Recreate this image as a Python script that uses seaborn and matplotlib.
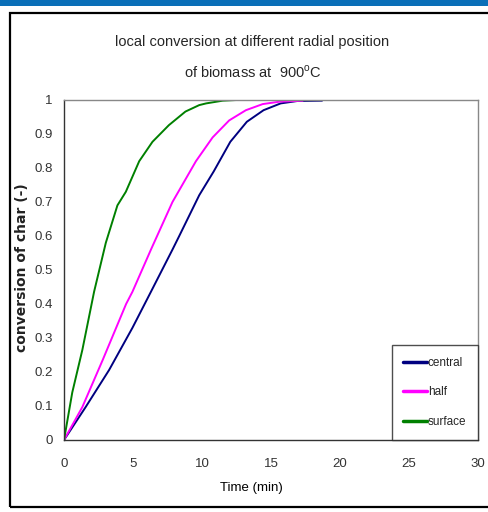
import matplotlib
matplotlib.use("Agg")
import matplotlib.pyplot as plt
import seaborn as sns
import pandas as pd
from matplotlib.patches import Rectangle
from matplotlib.lines import Line2D

# ---- data ----
central_t = [0, 1.57, 3.27, 4.96, 6.3, 7.86, 8.35, 9.8, 10.85, 12.05, 13.25, 14.46, 15.7, 16.9, 18.7]
central_c = [0, 0.097, 0.206, 0.33, 0.436, 0.56, 0.60, 0.72, 0.79, 0.877, 0.936, 0.97, 0.99, 0.997, 0.998]
half_t = [0, 1.33, 2.8, 4.5, 4.96, 6.3, 7.86, 9.56, 10.77, 11.97, 13.18, 14.4, 15.6, 17.3]
half_c = [0, 0.097, 0.235, 0.40, 0.436, 0.56, 0.70, 0.82, 0.89, 0.94, 0.97, 0.988, 0.995, 0.998]
surface_t = [0, 0.6, 1.33, 2.18, 3.03, 3.87, 4.48, 5.45, 6.41, 7.6, 8.8, 9.8, 10.3, 11.5, 12.5, 30.0]
surface_c = [0, 0.14, 0.265, 0.436, 0.58, 0.69, 0.73, 0.82, 0.877, 0.926, 0.966, 0.985, 0.99, 0.998, 1.0, 1.0]
series_names = ["central", "half", "surface"]
colors = ["#000080", "#FF00FF", "#008000"]
x_ticks = [0, 5, 10, 15, 20, 25, 30]
y_ticks = [0, 0.1, 0.2, 0.3, 0.4, 0.5, 0.6, 0.7, 0.8, 0.9, 1.0]
y_tick_labels = ["0", "0.1", "0.2", "0.3", "0.4", "0.5", "0.6", "0.7", "0.8", "0.9", "1"]

rows = []
for name, ts, cs in zip(series_names, [central_t, half_t, surface_t], [central_c, half_c, surface_c]):
    for t, c in zip(ts, cs):
        rows.append({"time": t, "conv": c, "series": name})
df = pd.DataFrame(rows)

sns.set_theme(style="white")
plt.rcParams["font.family"] = ["Liberation Sans", "DejaVu Sans"]

fig = plt.figure(figsize=(4.89, 5.12), dpi=100)
W, H = 489, 512
# top banner
fig.patches.append(Rectangle((0, 1 - 6 / H), 1, 6 / H, transform=fig.transFigure,
                             facecolor="#0a6fb8", edgecolor="none", zorder=0))
# outer frame
fig.patches.append(Rectangle((10 / W, 1 - 507 / H), 1.2, (507 - 13) / H, transform=fig.transFigure,
                             facecolor="none", edgecolor="black", linewidth=1.6, zorder=1))

ax = fig.add_axes([64 / W, 1 - 440 / H, (478 - 64) / W, (440 - 100) / H])
sns.lineplot(data=df, x="time", y="conv", hue="series", palette=colors, hue_order=series_names,
             sort=False, estimator=None, units="series", linewidth=1.4, ax=ax, legend=False)

ax.set_xlim(0, 30)
ax.set_ylim(0, 1)
ax.set_xticks(x_ticks)
ax.set_yticks(y_ticks)
ax.set_yticklabels(y_tick_labels)
ax.tick_params(axis="x", direction="in", length=4, colors="#333333", labelsize=9.5, pad=13, width=0.8)
ax.tick_params(axis="y", direction="out", length=4, colors="#333333", labelsize=9.5, pad=4, width=0.8)
for s in ["left", "bottom"]:
    ax.spines[s].set_color("#333333")
    ax.spines[s].set_linewidth(1.0)
for s in ["top", "right"]:
    ax.spines[s].set_color("#888888")
    ax.spines[s].set_linewidth(1.0)

ax.set_xlabel("Time (min)", fontsize=9.5, color="black")
ax.xaxis.set_label_coords((251 - 64) / 414, -(482 - 440) / 340)
ax.set_ylabel("conversion of char (-)", fontsize=10, fontweight="bold", color="#222222",
              family=["DejaVu Sans"])
ax.yaxis.set_label_coords(-(64 - 29) / 414, (440 - 268) / 340)

fig.text(252 / W, 1 - 42 / H, "local conversion at different radial position", ha="center",
         va="center", fontsize=10.5)
fig.text(253 / W, 1 - 72 / H, "of biomass at  900$^{\\mathregular{o}}$C", ha="center",
         va="center", fontsize=10.5)

handles = [Line2D([0], [0], color=c, linewidth=2.5) for c in colors]
leg = ax.legend(handles, series_names, loc="lower right", frameon=True, fontsize=8.5,
                handlelength=2.0, handletextpad=0.05, labelspacing=1.5, borderpad=1.0,
                borderaxespad=0, fancybox=False, edgecolor="#222222")
leg.get_frame().set_linewidth(1.0)

fig.savefig("out.png", dpi=100)
